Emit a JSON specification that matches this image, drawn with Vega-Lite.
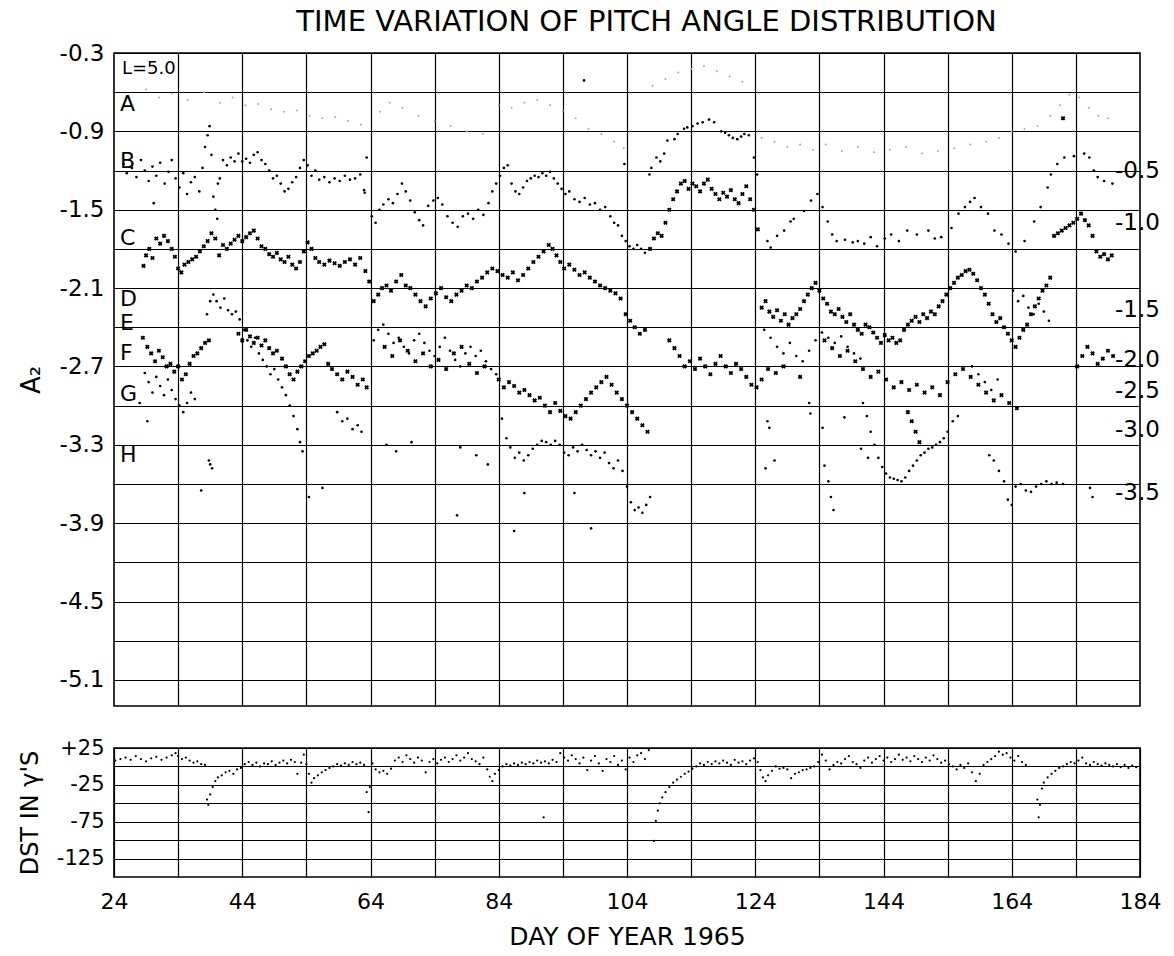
{
"$schema": "https://vega.github.io/schema/vega-lite/v6.json",
"padding": {"left": 17, "top": 8, "right": 5, "bottom": 5},
"background": "white",
"title": {"text": "TIME VARIATION OF PITCH ANGLE DISTRIBUTION", "fontSize": 29, "font": "DejaVu Sans", "fontWeight": "normal", "color": "black", "anchor": "middle", "offset": 4, "dx": 57},
"config": {
 "view": {"stroke": "black", "strokeWidth": 1.6},
 "font": "DejaVu Sans",
 "axis": {"gridColor": "black", "gridOpacity": 1, "gridWidth": 1.2, "domain": false, "ticks": false, "labelColor": "black", "titleColor": "black", "labelFont": "DejaVu Sans", "titleFont": "DejaVu Sans", "titleFontWeight": "normal", "labelOverlap": false, "labelFlush": false, "labelBound": false}
},
"datasets": {
"labs": [
{"t":"L=5.0","day":24,"a2":-0.42,"side":"left"},
{"t":"A","day":24,"a2":-0.69,"side":"left"},
{"t":"B","day":24,"a2":-1.13,"side":"left"},
{"t":"C","day":24,"a2":-1.72,"side":"left"},
{"t":"D","day":24,"a2":-2.18,"side":"left"},
{"t":"E","day":24,"a2":-2.37,"side":"left"},
{"t":"F","day":24,"a2":-2.6,"side":"left"},
{"t":"G","day":24,"a2":-2.91,"side":"left"},
{"t":"H","day":24,"a2":-3.38,"side":"left"},
{"t":"-0.5","day":184,"a2":-1.2,"side":"right"},
{"t":"-1.0","day":184,"a2":-1.6,"side":"right"},
{"t":"-1.5","day":184,"a2":-2.27,"side":"right"},
{"t":"-2.0","day":184,"a2":-2.65,"side":"right"},
{"t":"-2.5","day":184,"a2":-2.89,"side":"right"},
{"t":"-3.0","day":184,"a2":-3.19,"side":"right"},
{"t":"-3.5","day":184,"a2":-3.67,"side":"right"}
],
"pts": [
{"day":29,"a2":-0.58,"k":"faint"},{"day":31,"a2":-0.64,"k":"faint"},{"day":33,"a2":-0.61,"k":"faint"},{"day":35.5,"a2":-0.66,"k":"faint"},{"day":38,"a2":-0.6,"k":"faint"},{"day":40.5,"a2":-0.68,"k":"faint"},{"day":42.5,"a2":-0.64,"k":"faint"},{"day":44.5,"a2":-0.7,"k":"faint"},{"day":46.5,"a2":-0.69,"k":"faint"},{"day":48.5,"a2":-0.73,"k":"faint"},{"day":50.5,"a2":-0.75,"k":"faint"},{"day":52.5,"a2":-0.74,"k":"faint"},{"day":54.5,"a2":-0.78,"k":"faint"},{"day":56.5,"a2":-0.8,"k":"faint"},{"day":58.5,"a2":-0.79,"k":"faint"},{"day":60.5,"a2":-0.82,"k":"faint"},{"day":62.5,"a2":-0.85,"k":"faint"},{"day":65.5,"a2":-0.75,"k":"faint"},{"day":67,"a2":-0.68,"k":"faint"},{"day":69,"a2":-0.72,"k":"faint"},{"day":71.5,"a2":-0.78,"k":"faint"},{"day":74,"a2":-0.82,"k":"faint"},{"day":76.5,"a2":-0.86,"k":"faint"},{"day":79,"a2":-0.9,"k":"faint"},{"day":81.5,"a2":-0.92,"k":"faint"},{"day":84,"a2":-0.7,"k":"faint"},{"day":86,"a2":-0.72,"k":"faint"},{"day":88,"a2":-0.68,"k":"faint"},{"day":90,"a2":-0.66,"k":"faint"},{"day":92,"a2":-0.7,"k":"faint"},{"day":94,"a2":-0.74,"k":"faint"},{"day":96,"a2":-0.8,"k":"faint"},{"day":98,"a2":-0.88,"k":"faint"},{"day":100,"a2":-0.92,"k":"faint"},{"day":102,"a2":-0.98,"k":"faint"},{"day":103.5,"a2":-1.03,"k":"faint"},{"day":108,"a2":-0.55,"k":"faint"},{"day":110,"a2":-0.5,"k":"faint"},{"day":112,"a2":-0.45,"k":"faint"},{"day":114,"a2":-0.42,"k":"faint"},{"day":116,"a2":-0.4,"k":"faint"},{"day":118,"a2":-0.44,"k":"faint"},{"day":120,"a2":-0.48,"k":"faint"},{"day":122,"a2":-0.52,"k":"faint"},{"day":125,"a2":-0.95,"k":"faint"},{"day":127,"a2":-0.98,"k":"faint"},{"day":129,"a2":-1.02,"k":"faint"},{"day":131,"a2":-1.0,"k":"faint"},{"day":133,"a2":-1.04,"k":"faint"},{"day":135,"a2":-1.0,"k":"faint"},{"day":137.5,"a2":-1.05,"k":"faint"},{"day":140,"a2":-1.02,"k":"faint"},{"day":142.5,"a2":-1.06,"k":"faint"},{"day":145,"a2":-1.04,"k":"faint"},{"day":147.5,"a2":-1.02,"k":"faint"},{"day":150,"a2":-1.07,"k":"faint"},{"day":152.5,"a2":-1.05,"k":"faint"},{"day":155,"a2":-1.03,"k":"faint"},{"day":157.5,"a2":-1.0,"k":"faint"},{"day":160,"a2":-0.98,"k":"faint"},{"day":162,"a2":-0.95,"k":"faint"},{"day":164,"a2":-0.9,"k":"faint"},{"day":166,"a2":-0.88,"k":"faint"},{"day":168,"a2":-0.86,"k":"faint"},{"day":170,"a2":-0.78,"k":"faint"},{"day":171.5,"a2":-0.7,"k":"faint"},{"day":173,"a2":-0.62,"k":"faint"},{"day":174.5,"a2":-0.64,"k":"faint"},{"day":176,"a2":-0.72,"k":"faint"},{"day":177.5,"a2":-0.78,"k":"faint"},{"day":179,"a2":-0.8,"k":"faint"},
{"day":97.3,"a2":-0.51,"k":"dot"},{"day":172,"a2":-0.8,"k":"cross"},
{"day":25.5,"a2":-1.15,"k":"dot"},{"day":26.0,"a2":-1.22,"k":"dot"},{"day":26.8,"a2":-1.18,"k":"dot"},{"day":27.5,"a2":-1.25,"k":"dot"},{"day":28.2,"a2":-1.12,"k":"dot"},{"day":28.8,"a2":-1.2,"k":"dot"},{"day":29.4,"a2":-1.28,"k":"dot"},{"day":30.0,"a2":-1.17,"k":"dot"},{"day":30.2,"a2":-1.45,"k":"dot"},{"day":30.6,"a2":-1.24,"k":"dot"},{"day":31.2,"a2":-1.14,"k":"dot"},{"day":31.9,"a2":-1.3,"k":"dot"},{"day":32.5,"a2":-1.21,"k":"dot"},{"day":33.0,"a2":-1.12,"k":"dot"},{"day":33.6,"a2":-1.26,"k":"dot"},{"day":34.2,"a2":-1.33,"k":"dot"},{"day":34.8,"a2":-1.22,"k":"dot"},{"day":35.4,"a2":-1.38,"k":"dot"},{"day":36.0,"a2":-1.29,"k":"dot"},{"day":36.6,"a2":-1.25,"k":"dot"},{"day":37.3,"a2":-1.36,"k":"dot"},{"day":37.8,"a2":-1.18,"k":"dot"},{"day":38.2,"a2":-1.02,"k":"dot"},{"day":38.6,"a2":-0.93,"k":"dot"},{"day":38.9,"a2":-0.86,"k":"dot"},{"day":39.2,"a2":-1.08,"k":"dot"},{"day":39.5,"a2":-1.4,"k":"dot"},{"day":39.8,"a2":-1.5,"k":"dot"},{"day":40.1,"a2":-1.57,"k":"dot"},{"day":40.2,"a2":-1.3,"k":"dot"},{"day":40.5,"a2":-1.26,"k":"dot"},{"day":41.0,"a2":-1.12,"k":"dot"},{"day":41.6,"a2":-1.16,"k":"dot"},{"day":42.2,"a2":-1.1,"k":"dot"},{"day":42.8,"a2":-1.13,"k":"dot"},{"day":43.4,"a2":-1.07,"k":"dot"},{"day":44.0,"a2":-1.13,"k":"dot"},{"day":44.6,"a2":-1.11,"k":"dot"},{"day":45.2,"a2":-1.14,"k":"dot"},{"day":45.8,"a2":-1.08,"k":"dot"},{"day":46.4,"a2":-1.06,"k":"dot"},{"day":47.0,"a2":-1.12,"k":"dot"},{"day":47.6,"a2":-1.15,"k":"dot"},{"day":48.2,"a2":-1.2,"k":"dot"},{"day":48.8,"a2":-1.26,"k":"dot"},{"day":49.4,"a2":-1.24,"k":"dot"},{"day":50.0,"a2":-1.3,"k":"dot"},{"day":50.6,"a2":-1.36,"k":"dot"},{"day":51.2,"a2":-1.34,"k":"dot"},{"day":51.8,"a2":-1.29,"k":"dot"},{"day":52.4,"a2":-1.25,"k":"dot"},{"day":53.0,"a2":-1.18,"k":"dot"},{"day":53.6,"a2":-1.12,"k":"dot"},{"day":54.2,"a2":-1.16,"k":"dot"},{"day":54.8,"a2":-1.24,"k":"dot"},{"day":55.4,"a2":-1.2,"k":"dot"},{"day":56.0,"a2":-1.27,"k":"dot"},{"day":56.8,"a2":-1.25,"k":"dot"},{"day":57.6,"a2":-1.29,"k":"dot"},{"day":58.4,"a2":-1.26,"k":"dot"},{"day":59.2,"a2":-1.28,"k":"dot"},{"day":60.0,"a2":-1.24,"k":"dot"},{"day":60.8,"a2":-1.27,"k":"dot"},{"day":61.6,"a2":-1.26,"k":"dot"},{"day":62.4,"a2":-1.23,"k":"dot"},{"day":63.0,"a2":-1.35,"k":"dot"},{"day":63.1,"a2":-1.37,"k":"dot"},{"day":63.4,"a2":-1.1,"k":"dot"},{"day":64.2,"a2":-1.55,"k":"dot"},{"day":64.8,"a2":-1.6,"k":"dot"},{"day":65.4,"a2":-1.5,"k":"dot"},{"day":66.0,"a2":-1.46,"k":"dot"},{"day":66.8,"a2":-1.42,"k":"dot"},{"day":67.5,"a2":-1.45,"k":"dot"},{"day":68.2,"a2":-1.38,"k":"dot"},{"day":68.9,"a2":-1.3,"k":"dot"},{"day":69.5,"a2":-1.36,"k":"dot"},{"day":70.2,"a2":-1.43,"k":"dot"},{"day":70.9,"a2":-1.52,"k":"dot"},{"day":71.6,"a2":-1.58,"k":"dot"},{"day":72.2,"a2":-1.62,"k":"dot"},{"day":73.0,"a2":-1.47,"k":"dot"},{"day":73.8,"a2":-1.43,"k":"dot"},{"day":74.5,"a2":-1.41,"k":"dot"},{"day":75.2,"a2":-1.46,"k":"dot"},{"day":76.0,"a2":-1.55,"k":"dot"},{"day":76.8,"a2":-1.6,"k":"dot"},{"day":77.6,"a2":-1.63,"k":"dot"},{"day":78.4,"a2":-1.55,"k":"dot"},{"day":79.2,"a2":-1.53,"k":"dot"},{"day":80.0,"a2":-1.57,"k":"dot"},{"day":80.8,"a2":-1.5,"k":"dot"},{"day":81.6,"a2":-1.54,"k":"dot"},{"day":82.4,"a2":-1.45,"k":"dot"},{"day":83.0,"a2":-1.36,"k":"dot"},{"day":83.6,"a2":-1.3,"k":"dot"},{"day":84.2,"a2":-1.24,"k":"dot"},{"day":84.8,"a2":-1.18,"k":"dot"},{"day":85.4,"a2":-1.16,"k":"dot"},{"day":86.0,"a2":-1.3,"k":"dot"},{"day":86.6,"a2":-1.36,"k":"dot"},{"day":87.2,"a2":-1.38,"k":"dot"},{"day":87.8,"a2":-1.33,"k":"dot"},{"day":88.4,"a2":-1.28,"k":"dot"},{"day":89.0,"a2":-1.26,"k":"dot"},{"day":89.6,"a2":-1.24,"k":"dot"},{"day":90.2,"a2":-1.25,"k":"dot"},{"day":90.8,"a2":-1.22,"k":"dot"},{"day":91.4,"a2":-1.24,"k":"dot"},{"day":92.0,"a2":-1.21,"k":"dot"},{"day":92.6,"a2":-1.26,"k":"dot"},{"day":93.2,"a2":-1.3,"k":"dot"},{"day":93.8,"a2":-1.34,"k":"dot"},{"day":94.4,"a2":-1.38,"k":"dot"},{"day":95.0,"a2":-1.36,"k":"dot"},{"day":95.8,"a2":-1.42,"k":"dot"},{"day":96.6,"a2":-1.44,"k":"dot"},{"day":97.4,"a2":-1.41,"k":"dot"},{"day":98.2,"a2":-1.46,"k":"dot"},{"day":99.0,"a2":-1.45,"k":"dot"},{"day":99.8,"a2":-1.5,"k":"dot"},{"day":100.6,"a2":-1.48,"k":"dot"},{"day":101.4,"a2":-1.55,"k":"dot"},{"day":102.0,"a2":-1.6,"k":"dot"},{"day":102.6,"a2":-1.62,"k":"dot"},{"day":103.2,"a2":-1.7,"k":"dot"},{"day":103.6,"a2":-1.15,"k":"dot"},{"day":103.8,"a2":-1.74,"k":"dot"},{"day":104.4,"a2":-1.78,"k":"dot"},{"day":105.0,"a2":-1.8,"k":"dot"},{"day":105.6,"a2":-1.77,"k":"dot"},{"day":106.2,"a2":-1.8,"k":"dot"},{"day":106.8,"a2":-1.83,"k":"dot"},{"day":107.5,"a2":-1.23,"k":"dot"},{"day":107.8,"a2":-1.18,"k":"dot"},{"day":108.6,"a2":-1.1,"k":"dot"},{"day":109.2,"a2":-1.13,"k":"dot"},{"day":109.8,"a2":-1.07,"k":"dot"},{"day":110.3,"a2":-0.97,"k":"dot"},{"day":111.4,"a2":-0.96,"k":"dot"},{"day":111.9,"a2":-0.92,"k":"dot"},{"day":112.9,"a2":-0.88,"k":"dot"},{"day":113.4,"a2":-0.87,"k":"dot"},{"day":114.2,"a2":-0.86,"k":"dot"},{"day":115.0,"a2":-0.84,"k":"dot"},{"day":115.8,"a2":-0.83,"k":"dot"},{"day":116.8,"a2":-0.81,"k":"dot"},{"day":117.6,"a2":-0.83,"k":"dot"},{"day":118.7,"a2":-0.9,"k":"dot"},{"day":119.3,"a2":-0.91,"k":"dot"},{"day":119.9,"a2":-0.93,"k":"dot"},{"day":120.5,"a2":-0.95,"k":"dot"},{"day":121.2,"a2":-0.96,"k":"dot"},{"day":121.8,"a2":-0.94,"k":"dot"},{"day":122.3,"a2":-0.92,"k":"dot"},{"day":123.0,"a2":-0.93,"k":"dot"},{"day":123.8,"a2":-1.1,"k":"dot"},{"day":124.3,"a2":-1.23,"k":"dot"},{"day":125.9,"a2":-1.74,"k":"dot"},{"day":126.4,"a2":-1.79,"k":"dot"},{"day":127.4,"a2":-1.7,"k":"dot"},{"day":128.5,"a2":-1.66,"k":"dot"},{"day":129.5,"a2":-1.59,"k":"dot"},{"day":130.0,"a2":-1.57,"k":"dot"},{"day":131.6,"a2":-1.51,"k":"dot"},{"day":132.7,"a2":-1.43,"k":"dot"},{"day":133.7,"a2":-1.38,"k":"dot"},{"day":134.5,"a2":-1.48,"k":"dot"},{"day":135.3,"a2":-1.59,"k":"dot"},{"day":136.0,"a2":-1.69,"k":"dot"},{"day":136.7,"a2":-1.74,"k":"dot"},{"day":138.0,"a2":-1.73,"k":"dot"},{"day":139.2,"a2":-1.75,"k":"dot"},{"day":140.0,"a2":-1.74,"k":"dot"},{"day":141.0,"a2":-1.76,"k":"dot"},{"day":142.0,"a2":-1.71,"k":"dot"},{"day":143.0,"a2":-1.78,"k":"dot"},{"day":144.2,"a2":-1.72,"k":"dot"},{"day":145.2,"a2":-1.69,"k":"dot"},{"day":146.4,"a2":-1.74,"k":"dot"},{"day":147.7,"a2":-1.66,"k":"dot"},{"day":149.2,"a2":-1.69,"k":"dot"},{"day":151.0,"a2":-1.66,"k":"dot"},{"day":152.0,"a2":-1.72,"k":"dot"},{"day":153.0,"a2":-1.71,"k":"dot"},{"day":154.6,"a2":-1.64,"k":"dot"},{"day":155.7,"a2":-1.53,"k":"dot"},{"day":156.7,"a2":-1.48,"k":"dot"},{"day":157.5,"a2":-1.44,"k":"dot"},{"day":158.2,"a2":-1.41,"k":"dot"},{"day":159.2,"a2":-1.48,"k":"dot"},{"day":160.3,"a2":-1.53,"k":"dot"},{"day":161.3,"a2":-1.66,"k":"dot"},{"day":162.4,"a2":-1.69,"k":"dot"},{"day":163.5,"a2":-1.76,"k":"dot"},{"day":164.6,"a2":-1.82,"k":"dot"},{"day":166.0,"a2":-1.74,"k":"dot"},{"day":167.5,"a2":-1.59,"k":"dot"},{"day":168.5,"a2":-1.48,"k":"dot"},{"day":169.6,"a2":-1.33,"k":"dot"},{"day":170.1,"a2":-1.23,"k":"dot"},{"day":171.1,"a2":-1.15,"k":"dot"},{"day":172.2,"a2":-1.1,"k":"dot"},{"day":173.7,"a2":-1.09,"k":"dot"},{"day":175.3,"a2":-1.07,"k":"dot"},{"day":176.1,"a2":-1.1,"k":"dot"},{"day":176.8,"a2":-1.2,"k":"dot"},{"day":177.4,"a2":-1.25,"k":"dot"},{"day":178.4,"a2":-1.28,"k":"dot"},{"day":179.7,"a2":-1.3,"k":"dot"},
{"day":28.6,"a2":-1.93,"k":"cross"},{"day":29.0,"a2":-1.85,"k":"cross"},{"day":29.5,"a2":-1.8,"k":"cross"},{"day":30.0,"a2":-1.87,"k":"cross"},{"day":30.6,"a2":-1.72,"k":"cross"},{"day":31.2,"a2":-1.76,"k":"cross"},{"day":31.8,"a2":-1.7,"k":"cross"},{"day":32.4,"a2":-1.74,"k":"cross"},{"day":33.0,"a2":-1.8,"k":"cross"},{"day":33.5,"a2":-1.86,"k":"cross"},{"day":34.0,"a2":-1.95,"k":"cross"},{"day":34.5,"a2":-1.98,"k":"cross"},{"day":35.0,"a2":-1.92,"k":"cross"},{"day":35.6,"a2":-1.9,"k":"cross"},{"day":36.2,"a2":-1.88,"k":"cross"},{"day":36.8,"a2":-1.86,"k":"cross"},{"day":37.4,"a2":-1.82,"k":"cross"},{"day":38.0,"a2":-1.78,"k":"cross"},{"day":38.6,"a2":-1.74,"k":"cross"},{"day":39.2,"a2":-1.68,"k":"cross"},{"day":39.8,"a2":-1.72,"k":"cross"},{"day":40.4,"a2":-1.85,"k":"cross"},{"day":41.0,"a2":-1.77,"k":"cross"},{"day":41.6,"a2":-1.8,"k":"cross"},{"day":42.2,"a2":-1.76,"k":"cross"},{"day":42.8,"a2":-1.73,"k":"cross"},{"day":43.4,"a2":-1.7,"k":"cross"},{"day":44.0,"a2":-1.74,"k":"cross"},{"day":44.6,"a2":-1.71,"k":"cross"},{"day":45.2,"a2":-1.68,"k":"cross"},{"day":45.8,"a2":-1.66,"k":"cross"},{"day":46.4,"a2":-1.72,"k":"cross"},{"day":47.0,"a2":-1.78,"k":"cross"},{"day":47.6,"a2":-1.8,"k":"cross"},{"day":48.2,"a2":-1.84,"k":"cross"},{"day":48.8,"a2":-1.86,"k":"cross"},{"day":49.4,"a2":-1.83,"k":"cross"},{"day":50.0,"a2":-1.88,"k":"cross"},{"day":50.6,"a2":-1.9,"k":"cross"},{"day":51.2,"a2":-1.86,"k":"cross"},{"day":51.8,"a2":-1.92,"k":"cross"},{"day":52.4,"a2":-1.95,"k":"cross"},{"day":53.0,"a2":-1.9,"k":"cross"},{"day":53.6,"a2":-1.82,"k":"cross"},{"day":54.2,"a2":-1.75,"k":"cross"},{"day":54.8,"a2":-1.8,"k":"cross"},{"day":55.4,"a2":-1.87,"k":"cross"},{"day":56.0,"a2":-1.9,"k":"cross"},{"day":56.8,"a2":-1.92,"k":"cross"},{"day":57.6,"a2":-1.89,"k":"cross"},{"day":58.4,"a2":-1.91,"k":"cross"},{"day":59.2,"a2":-1.93,"k":"cross"},{"day":60.0,"a2":-1.9,"k":"cross"},{"day":60.8,"a2":-1.88,"k":"cross"},{"day":61.6,"a2":-1.92,"k":"cross"},{"day":62.4,"a2":-1.87,"k":"cross"},{"day":63.2,"a2":-1.97,"k":"cross"},{"day":63.8,"a2":-2.05,"k":"cross"},{"day":64.5,"a2":-2.2,"k":"cross"},{"day":65.2,"a2":-2.15,"k":"cross"},{"day":65.8,"a2":-2.1,"k":"cross"},{"day":66.5,"a2":-2.08,"k":"cross"},{"day":67.2,"a2":-2.12,"k":"cross"},{"day":68.0,"a2":-2.05,"k":"cross"},{"day":68.8,"a2":-2.0,"k":"cross"},{"day":69.5,"a2":-2.08,"k":"cross"},{"day":70.2,"a2":-2.1,"k":"cross"},{"day":71.0,"a2":-2.15,"k":"cross"},{"day":71.8,"a2":-2.2,"k":"cross"},{"day":72.6,"a2":-2.24,"k":"cross"},{"day":73.4,"a2":-2.18,"k":"cross"},{"day":74.2,"a2":-2.14,"k":"cross"},{"day":75.0,"a2":-2.1,"k":"cross"},{"day":75.8,"a2":-2.17,"k":"cross"},{"day":76.6,"a2":-2.2,"k":"cross"},{"day":77.4,"a2":-2.15,"k":"cross"},{"day":78.2,"a2":-2.12,"k":"cross"},{"day":79.0,"a2":-2.08,"k":"cross"},{"day":79.8,"a2":-2.1,"k":"cross"},{"day":80.6,"a2":-2.05,"k":"cross"},{"day":81.4,"a2":-2.02,"k":"cross"},{"day":82.2,"a2":-1.98,"k":"cross"},{"day":83.0,"a2":-1.95,"k":"cross"},{"day":83.8,"a2":-1.97,"k":"cross"},{"day":84.6,"a2":-2.0,"k":"cross"},{"day":85.4,"a2":-2.02,"k":"cross"},{"day":86.2,"a2":-1.98,"k":"cross"},{"day":87.0,"a2":-2.04,"k":"cross"},{"day":87.8,"a2":-2.0,"k":"cross"},{"day":88.6,"a2":-1.95,"k":"cross"},{"day":89.4,"a2":-1.9,"k":"cross"},{"day":90.2,"a2":-1.86,"k":"cross"},{"day":91.0,"a2":-1.82,"k":"cross"},{"day":91.8,"a2":-1.77,"k":"cross"},{"day":92.4,"a2":-1.8,"k":"cross"},{"day":93.0,"a2":-1.85,"k":"cross"},{"day":93.6,"a2":-1.9,"k":"cross"},{"day":94.2,"a2":-1.95,"k":"cross"},{"day":95.0,"a2":-1.92,"k":"cross"},{"day":95.8,"a2":-1.96,"k":"cross"},{"day":96.6,"a2":-2.0,"k":"cross"},{"day":97.4,"a2":-1.98,"k":"cross"},{"day":98.2,"a2":-2.02,"k":"cross"},{"day":99.0,"a2":-2.05,"k":"cross"},{"day":99.8,"a2":-2.08,"k":"cross"},{"day":100.6,"a2":-2.1,"k":"cross"},{"day":101.4,"a2":-2.12,"k":"cross"},{"day":102.2,"a2":-2.14,"k":"cross"},{"day":103.0,"a2":-2.18,"k":"cross"},{"day":103.8,"a2":-2.3,"k":"cross"},{"day":104.5,"a2":-2.35,"k":"cross"},{"day":105.2,"a2":-2.4,"k":"cross"},{"day":106.0,"a2":-2.45,"k":"cross"},{"day":106.8,"a2":-2.42,"k":"cross"},{"day":107.6,"a2":-1.8,"k":"cross"},{"day":108.2,"a2":-1.72,"k":"cross"},{"day":108.8,"a2":-1.68,"k":"cross"},{"day":109.4,"a2":-1.7,"k":"cross"},{"day":110.0,"a2":-1.6,"k":"cross"},{"day":110.6,"a2":-1.5,"k":"cross"},{"day":111.2,"a2":-1.42,"k":"cross"},{"day":111.8,"a2":-1.36,"k":"cross"},{"day":112.4,"a2":-1.3,"k":"cross"},{"day":113.0,"a2":-1.28,"k":"cross"},{"day":113.6,"a2":-1.34,"k":"cross"},{"day":114.2,"a2":-1.3,"k":"cross"},{"day":114.8,"a2":-1.32,"k":"cross"},{"day":115.4,"a2":-1.36,"k":"cross"},{"day":116.0,"a2":-1.3,"k":"cross"},{"day":116.6,"a2":-1.27,"k":"cross"},{"day":117.2,"a2":-1.34,"k":"cross"},{"day":117.8,"a2":-1.38,"k":"cross"},{"day":118.4,"a2":-1.42,"k":"cross"},{"day":119.0,"a2":-1.37,"k":"cross"},{"day":119.6,"a2":-1.4,"k":"cross"},{"day":120.2,"a2":-1.35,"k":"cross"},{"day":120.8,"a2":-1.42,"k":"cross"},{"day":121.4,"a2":-1.45,"k":"cross"},{"day":122.0,"a2":-1.38,"k":"cross"},{"day":122.6,"a2":-1.32,"k":"cross"},{"day":123.2,"a2":-1.42,"k":"cross"},{"day":123.8,"a2":-1.5,"k":"cross"},{"day":124.4,"a2":-1.65,"k":"cross"},{"day":125.0,"a2":-2.25,"k":"cross"},{"day":125.6,"a2":-2.2,"k":"cross"},{"day":126.2,"a2":-2.28,"k":"cross"},{"day":126.8,"a2":-2.32,"k":"cross"},{"day":127.4,"a2":-2.27,"k":"cross"},{"day":128.0,"a2":-2.35,"k":"cross"},{"day":128.6,"a2":-2.3,"k":"cross"},{"day":129.2,"a2":-2.38,"k":"cross"},{"day":129.8,"a2":-2.33,"k":"cross"},{"day":130.4,"a2":-2.3,"k":"cross"},{"day":131.0,"a2":-2.26,"k":"cross"},{"day":131.6,"a2":-2.2,"k":"cross"},{"day":132.2,"a2":-2.15,"k":"cross"},{"day":132.8,"a2":-2.1,"k":"cross"},{"day":133.4,"a2":-2.06,"k":"cross"},{"day":134.0,"a2":-2.12,"k":"cross"},{"day":134.6,"a2":-2.18,"k":"cross"},{"day":135.2,"a2":-2.22,"k":"cross"},{"day":135.8,"a2":-2.28,"k":"cross"},{"day":136.4,"a2":-2.3,"k":"cross"},{"day":137.0,"a2":-2.26,"k":"cross"},{"day":137.6,"a2":-2.32,"k":"cross"},{"day":138.2,"a2":-2.36,"k":"cross"},{"day":138.8,"a2":-2.3,"k":"cross"},{"day":139.4,"a2":-2.38,"k":"cross"},{"day":140.0,"a2":-2.42,"k":"cross"},{"day":140.6,"a2":-2.45,"k":"cross"},{"day":141.2,"a2":-2.38,"k":"cross"},{"day":141.8,"a2":-2.4,"k":"cross"},{"day":142.4,"a2":-2.44,"k":"cross"},{"day":143.0,"a2":-2.48,"k":"cross"},{"day":143.6,"a2":-2.52,"k":"cross"},{"day":144.2,"a2":-2.46,"k":"cross"},{"day":144.8,"a2":-2.5,"k":"cross"},{"day":145.4,"a2":-2.48,"k":"cross"},{"day":146.0,"a2":-2.52,"k":"cross"},{"day":146.6,"a2":-2.5,"k":"cross"},{"day":147.2,"a2":-2.42,"k":"cross"},{"day":147.8,"a2":-2.38,"k":"cross"},{"day":148.4,"a2":-2.35,"k":"cross"},{"day":149.0,"a2":-2.32,"k":"cross"},{"day":149.6,"a2":-2.36,"k":"cross"},{"day":150.2,"a2":-2.3,"k":"cross"},{"day":150.8,"a2":-2.33,"k":"cross"},{"day":151.4,"a2":-2.28,"k":"cross"},{"day":152.0,"a2":-2.3,"k":"cross"},{"day":152.6,"a2":-2.24,"k":"cross"},{"day":153.2,"a2":-2.2,"k":"cross"},{"day":153.8,"a2":-2.15,"k":"cross"},{"day":154.4,"a2":-2.1,"k":"cross"},{"day":155.0,"a2":-2.06,"k":"cross"},{"day":155.6,"a2":-2.02,"k":"cross"},{"day":156.2,"a2":-2.0,"k":"cross"},{"day":156.8,"a2":-1.97,"k":"cross"},{"day":157.4,"a2":-1.96,"k":"cross"},{"day":158.0,"a2":-1.99,"k":"cross"},{"day":158.6,"a2":-2.04,"k":"cross"},{"day":159.2,"a2":-2.1,"k":"cross"},{"day":159.8,"a2":-2.15,"k":"cross"},{"day":160.4,"a2":-2.22,"k":"cross"},{"day":161.0,"a2":-2.3,"k":"cross"},{"day":161.6,"a2":-2.36,"k":"cross"},{"day":162.2,"a2":-2.33,"k":"cross"},{"day":162.8,"a2":-2.4,"k":"cross"},{"day":163.4,"a2":-2.45,"k":"cross"},{"day":164.0,"a2":-2.5,"k":"cross"},{"day":164.6,"a2":-2.55,"k":"cross"},{"day":165.2,"a2":-2.48,"k":"cross"},{"day":165.8,"a2":-2.42,"k":"cross"},{"day":166.4,"a2":-2.38,"k":"cross"},{"day":167.0,"a2":-2.3,"k":"cross"},{"day":167.6,"a2":-2.24,"k":"cross"},{"day":168.2,"a2":-2.18,"k":"cross"},{"day":168.8,"a2":-2.12,"k":"cross"},{"day":169.4,"a2":-2.08,"k":"cross"},{"day":170.0,"a2":-2.02,"k":"cross"},{"day":170.6,"a2":-1.7,"k":"cross"},{"day":171.2,"a2":-1.68,"k":"cross"},{"day":171.8,"a2":-1.66,"k":"cross"},{"day":172.4,"a2":-1.64,"k":"cross"},{"day":173.0,"a2":-1.62,"k":"cross"},{"day":173.6,"a2":-1.6,"k":"cross"},{"day":174.2,"a2":-1.57,"k":"cross"},{"day":174.8,"a2":-1.53,"k":"cross"},{"day":175.4,"a2":-1.58,"k":"cross"},{"day":176.0,"a2":-1.62,"k":"cross"},{"day":176.6,"a2":-1.7,"k":"cross"},{"day":177.2,"a2":-1.82,"k":"cross"},{"day":177.8,"a2":-1.86,"k":"cross"},{"day":178.4,"a2":-1.84,"k":"cross"},{"day":179.0,"a2":-1.88,"k":"cross"},{"day":179.6,"a2":-1.85,"k":"cross"},
{"day":38.5,"a2":-2.3,"k":"dot"},{"day":39.0,"a2":-2.2,"k":"dot"},{"day":39.5,"a2":-2.15,"k":"dot"},{"day":40.0,"a2":-2.2,"k":"dot"},{"day":40.6,"a2":-2.25,"k":"dot"},{"day":41.2,"a2":-2.18,"k":"dot"},{"day":41.8,"a2":-2.27,"k":"dot"},{"day":42.4,"a2":-2.3,"k":"dot"},{"day":43.0,"a2":-2.28,"k":"dot"},{"day":43.6,"a2":-2.34,"k":"dot"},{"day":44.2,"a2":-2.42,"k":"dot"},{"day":44.8,"a2":-2.5,"k":"dot"},{"day":45.4,"a2":-2.55,"k":"dot"},{"day":46.0,"a2":-2.48,"k":"dot"},{"day":46.6,"a2":-2.6,"k":"dot"},{"day":47.2,"a2":-2.65,"k":"dot"},{"day":47.8,"a2":-2.7,"k":"dot"},{"day":48.4,"a2":-2.76,"k":"dot"},{"day":49.0,"a2":-2.72,"k":"dot"},{"day":49.6,"a2":-2.8,"k":"dot"},{"day":50.2,"a2":-2.86,"k":"dot"},{"day":50.8,"a2":-2.92,"k":"dot"},{"day":51.4,"a2":-3.0,"k":"dot"},{"day":52.0,"a2":-3.08,"k":"dot"},{"day":52.6,"a2":-3.18,"k":"dot"},{"day":53.0,"a2":-3.28,"k":"dot"},{"day":53.4,"a2":-3.35,"k":"dot"},{"day":58.8,"a2":-3.05,"k":"dot"},{"day":59.6,"a2":-3.12,"k":"dot"},{"day":60.4,"a2":-3.1,"k":"dot"},{"day":61.2,"a2":-3.18,"k":"dot"},{"day":62.0,"a2":-3.15,"k":"dot"},{"day":62.6,"a2":-3.2,"k":"dot"},
{"day":64.5,"a2":-2.5,"k":"dot"},{"day":65.2,"a2":-2.42,"k":"dot"},{"day":66.0,"a2":-2.38,"k":"dot"},{"day":66.8,"a2":-2.45,"k":"dot"},{"day":67.6,"a2":-2.52,"k":"dot"},{"day":68.4,"a2":-2.48,"k":"dot"},{"day":69.2,"a2":-2.55,"k":"dot"},{"day":70.0,"a2":-2.6,"k":"dot"},{"day":70.8,"a2":-2.5,"k":"dot"},{"day":71.6,"a2":-2.45,"k":"dot"},{"day":72.4,"a2":-2.52,"k":"dot"},{"day":73.2,"a2":-2.58,"k":"dot"},{"day":74.0,"a2":-2.62,"k":"dot"},{"day":74.8,"a2":-2.55,"k":"dot"},{"day":75.6,"a2":-2.48,"k":"dot"},{"day":76.4,"a2":-2.58,"k":"dot"},{"day":77.2,"a2":-2.65,"k":"dot"},{"day":78.0,"a2":-2.7,"k":"dot"},{"day":78.8,"a2":-2.6,"k":"dot"},{"day":79.6,"a2":-2.55,"k":"dot"},{"day":80.4,"a2":-2.62,"k":"dot"},{"day":81.2,"a2":-2.58,"k":"dot"},{"day":82.0,"a2":-2.66,"k":"dot"},{"day":82.8,"a2":-2.72,"k":"dot"},{"day":83.6,"a2":-2.76,"k":"dot"},
{"day":125.4,"a2":-2.42,"k":"dot"},{"day":126.4,"a2":-2.48,"k":"dot"},{"day":127.4,"a2":-2.55,"k":"dot"},{"day":128.4,"a2":-2.6,"k":"dot"},{"day":129.4,"a2":-2.52,"k":"dot"},{"day":130.4,"a2":-2.62,"k":"dot"},{"day":131.4,"a2":-2.66,"k":"dot"},{"day":132.4,"a2":-2.58,"k":"dot"},{"day":133.4,"a2":-2.5,"k":"dot"},{"day":134.4,"a2":-2.44,"k":"dot"},{"day":135.4,"a2":-2.48,"k":"dot"},{"day":136.4,"a2":-2.52,"k":"dot"},{"day":137.4,"a2":-2.47,"k":"dot"},{"day":138.4,"a2":-2.55,"k":"dot"},{"day":139.4,"a2":-2.6,"k":"dot"},{"day":140.4,"a2":-2.64,"k":"dot"},
{"day":140.8,"a2":-2.98,"k":"dot"},{"day":141.4,"a2":-3.08,"k":"dot"},{"day":142.0,"a2":-3.2,"k":"dot"},{"day":142.6,"a2":-3.3,"k":"dot"},{"day":143.2,"a2":-3.4,"k":"dot"},{"day":143.8,"a2":-3.47,"k":"dot"},{"day":144.4,"a2":-3.52,"k":"dot"},{"day":145.0,"a2":-3.55,"k":"dot"},{"day":145.6,"a2":-3.56,"k":"dot"},{"day":146.2,"a2":-3.57,"k":"dot"},{"day":146.8,"a2":-3.58,"k":"dot"},{"day":147.4,"a2":-3.55,"k":"dot"},{"day":148.0,"a2":-3.5,"k":"dot"},{"day":148.6,"a2":-3.46,"k":"dot"},{"day":149.2,"a2":-3.42,"k":"dot"},{"day":149.8,"a2":-3.38,"k":"dot"},{"day":150.4,"a2":-3.36,"k":"dot"},{"day":151.0,"a2":-3.33,"k":"dot"},{"day":151.6,"a2":-3.32,"k":"dot"},{"day":152.2,"a2":-3.3,"k":"dot"},{"day":152.8,"a2":-3.28,"k":"dot"},{"day":153.4,"a2":-3.25,"k":"dot"},{"day":154.0,"a2":-3.2,"k":"dot"},{"day":154.8,"a2":-3.12,"k":"dot"},{"day":155.6,"a2":-3.08,"k":"dot"},
{"day":157.8,"a2":-2.7,"k":"dot"},{"day":158.8,"a2":-2.76,"k":"dot"},{"day":159.8,"a2":-2.82,"k":"dot"},{"day":160.8,"a2":-2.88,"k":"dot"},{"day":161.8,"a2":-2.8,"k":"dot"},
{"day":160.5,"a2":-3.38,"k":"dot"},{"day":161.2,"a2":-3.42,"k":"dot"},{"day":162.0,"a2":-3.5,"k":"dot"},{"day":162.8,"a2":-3.58,"k":"dot"},{"day":163.4,"a2":-3.72,"k":"dot"},{"day":164.0,"a2":-3.76,"k":"dot"},{"day":164.6,"a2":-3.62,"k":"dot"},{"day":165.4,"a2":-3.6,"k":"dot"},{"day":166.2,"a2":-3.65,"k":"dot"},{"day":167.0,"a2":-3.66,"k":"dot"},{"day":167.8,"a2":-3.62,"k":"dot"},{"day":168.6,"a2":-3.6,"k":"dot"},{"day":169.4,"a2":-3.58,"k":"dot"},{"day":170.2,"a2":-3.6,"k":"dot"},{"day":171.0,"a2":-3.59,"k":"dot"},{"day":172.0,"a2":-3.6,"k":"dot"},{"day":176.2,"a2":-3.63,"k":"dot"},{"day":176.6,"a2":-3.7,"k":"dot"},
{"day":164.2,"a2":-2.12,"k":"dot"},{"day":165.0,"a2":-2.2,"k":"dot"},{"day":165.8,"a2":-2.16,"k":"dot"},{"day":166.6,"a2":-2.25,"k":"dot"},{"day":167.4,"a2":-2.3,"k":"dot"},{"day":168.2,"a2":-2.22,"k":"dot"},{"day":169.0,"a2":-2.28,"k":"dot"},{"day":169.8,"a2":-2.35,"k":"dot"},
{"day":28.0,"a2":-2.98,"k":"dot"},{"day":28.8,"a2":-2.75,"k":"dot"},{"day":29.4,"a2":-2.82,"k":"dot"},{"day":30.0,"a2":-2.9,"k":"dot"},{"day":30.6,"a2":-2.78,"k":"dot"},{"day":31.2,"a2":-2.85,"k":"dot"},{"day":31.8,"a2":-2.92,"k":"dot"},{"day":32.4,"a2":-2.8,"k":"dot"},{"day":33.0,"a2":-2.88,"k":"dot"},{"day":33.6,"a2":-2.95,"k":"dot"},{"day":34.2,"a2":-3.0,"k":"dot"},{"day":34.8,"a2":-3.05,"k":"dot"},{"day":35.4,"a2":-2.98,"k":"dot"},{"day":36.0,"a2":-2.9,"k":"dot"},{"day":36.6,"a2":-2.95,"k":"dot"},{"day":29.2,"a2":-3.12,"k":"dot"},{"day":38.8,"a2":-3.42,"k":"dot"},{"day":39.0,"a2":-3.45,"k":"dot"},{"day":39.3,"a2":-3.48,"k":"dot"},{"day":37.6,"a2":-3.65,"k":"dot"},{"day":56.5,"a2":-3.63,"k":"dot"},{"day":54.4,"a2":-3.7,"k":"dot"},{"day":77.5,"a2":-3.84,"k":"dot"},{"day":86.4,"a2":-3.96,"k":"dot"},{"day":98.4,"a2":-3.94,"k":"dot"},{"day":95.8,"a2":-3.67,"k":"dot"},{"day":88.0,"a2":-3.67,"k":"dot"},{"day":66.5,"a2":-3.3,"k":"dot"},{"day":68.0,"a2":-3.35,"k":"dot"},{"day":70.4,"a2":-3.28,"k":"dot"},{"day":78.0,"a2":-3.32,"k":"dot"},{"day":80.5,"a2":-3.38,"k":"dot"},{"day":82.3,"a2":-3.45,"k":"dot"},{"day":125.6,"a2":-3.48,"k":"dot"},{"day":127.0,"a2":-3.42,"k":"dot"},{"day":134.8,"a2":-3.46,"k":"dot"},{"day":135.4,"a2":-3.58,"k":"dot"},{"day":135.8,"a2":-3.7,"k":"dot"},{"day":136.2,"a2":-3.8,"k":"dot"},{"day":125.9,"a2":-3.12,"k":"dot"},{"day":126.2,"a2":-3.17,"k":"dot"},{"day":132.4,"a2":-2.98,"k":"dot"},{"day":132.6,"a2":-3.06,"k":"dot"},{"day":137.9,"a2":-3.09,"k":"dot"},{"day":134.5,"a2":-3.17,"k":"dot"},{"day":140.5,"a2":-3.33,"k":"dot"},{"day":141.6,"a2":-3.4,"k":"dot"},
{"day":84.5,"a2":-3.1,"k":"dot"},{"day":85.2,"a2":-3.25,"k":"dot"},{"day":85.8,"a2":-3.32,"k":"dot"},{"day":86.5,"a2":-3.4,"k":"dot"},{"day":87.2,"a2":-3.36,"k":"dot"},{"day":87.9,"a2":-3.42,"k":"dot"},{"day":88.6,"a2":-3.38,"k":"dot"},{"day":89.3,"a2":-3.33,"k":"dot"},{"day":90.0,"a2":-3.3,"k":"dot"},{"day":90.7,"a2":-3.27,"k":"dot"},{"day":91.4,"a2":-3.28,"k":"dot"},{"day":92.1,"a2":-3.3,"k":"dot"},{"day":92.8,"a2":-3.27,"k":"dot"},{"day":93.5,"a2":-3.3,"k":"dot"},{"day":94.2,"a2":-3.36,"k":"dot"},{"day":94.9,"a2":-3.38,"k":"dot"},{"day":95.6,"a2":-3.32,"k":"dot"},{"day":96.3,"a2":-3.35,"k":"dot"},{"day":97.0,"a2":-3.3,"k":"dot"},{"day":97.7,"a2":-3.34,"k":"dot"},{"day":98.4,"a2":-3.38,"k":"dot"},{"day":99.1,"a2":-3.35,"k":"dot"},{"day":99.8,"a2":-3.4,"k":"dot"},{"day":100.5,"a2":-3.36,"k":"dot"},{"day":101.2,"a2":-3.44,"k":"dot"},{"day":101.9,"a2":-3.48,"k":"dot"},{"day":102.6,"a2":-3.42,"k":"dot"},{"day":103.3,"a2":-3.5,"k":"dot"},{"day":104.0,"a2":-3.62,"k":"dot"},{"day":104.6,"a2":-3.74,"k":"dot"},{"day":105.2,"a2":-3.8,"k":"dot"},{"day":105.8,"a2":-3.78,"k":"dot"},{"day":106.4,"a2":-3.82,"k":"dot"},{"day":107.0,"a2":-3.76,"k":"dot"},{"day":107.6,"a2":-3.7,"k":"dot"},
{"day":28.5,"a2":-2.48,"k":"cross"},{"day":29.2,"a2":-2.55,"k":"cross"},{"day":29.8,"a2":-2.6,"k":"cross"},{"day":30.4,"a2":-2.66,"k":"cross"},{"day":31.0,"a2":-2.58,"k":"cross"},{"day":31.6,"a2":-2.63,"k":"cross"},{"day":32.2,"a2":-2.7,"k":"cross"},{"day":32.8,"a2":-2.68,"k":"cross"},{"day":33.4,"a2":-2.74,"k":"cross"},{"day":34.0,"a2":-2.7,"k":"cross"},{"day":34.6,"a2":-2.8,"k":"cross"},{"day":35.2,"a2":-2.76,"k":"cross"},{"day":35.8,"a2":-2.68,"k":"cross"},{"day":36.4,"a2":-2.62,"k":"cross"},{"day":37.0,"a2":-2.6,"k":"cross"},{"day":37.6,"a2":-2.56,"k":"cross"},{"day":38.2,"a2":-2.52,"k":"cross"},{"day":38.8,"a2":-2.5,"k":"cross"},{"day":43.4,"a2":-2.45,"k":"cross"},{"day":44.0,"a2":-2.5,"k":"cross"},{"day":44.6,"a2":-2.42,"k":"cross"},{"day":45.2,"a2":-2.47,"k":"cross"},{"day":45.8,"a2":-2.52,"k":"cross"},{"day":46.4,"a2":-2.48,"k":"cross"},{"day":47.0,"a2":-2.54,"k":"cross"},{"day":47.6,"a2":-2.5,"k":"cross"},{"day":48.2,"a2":-2.56,"k":"cross"},{"day":48.8,"a2":-2.6,"k":"cross"},{"day":49.4,"a2":-2.58,"k":"cross"},{"day":50.2,"a2":-2.64,"k":"cross"},{"day":50.8,"a2":-2.7,"k":"cross"},{"day":51.4,"a2":-2.76,"k":"cross"},{"day":52.0,"a2":-2.8,"k":"cross"},{"day":52.6,"a2":-2.74,"k":"cross"},{"day":53.2,"a2":-2.7,"k":"cross"},{"day":53.8,"a2":-2.66,"k":"cross"},{"day":54.4,"a2":-2.62,"k":"cross"},{"day":55.0,"a2":-2.6,"k":"cross"},{"day":55.6,"a2":-2.58,"k":"cross"},{"day":56.2,"a2":-2.55,"k":"cross"},{"day":56.8,"a2":-2.53,"k":"cross"},{"day":57.4,"a2":-2.68,"k":"cross"},{"day":58.0,"a2":-2.72,"k":"cross"},{"day":58.8,"a2":-2.76,"k":"cross"},{"day":59.6,"a2":-2.8,"k":"cross"},{"day":60.4,"a2":-2.74,"k":"cross"},{"day":61.2,"a2":-2.78,"k":"cross"},{"day":62.0,"a2":-2.84,"k":"cross"},{"day":62.8,"a2":-2.8,"k":"cross"},{"day":63.4,"a2":-2.86,"k":"cross"},
{"day":66.2,"a2":-2.55,"k":"cross"},{"day":67.4,"a2":-2.62,"k":"cross"},{"day":68.6,"a2":-2.5,"k":"cross"},{"day":69.8,"a2":-2.58,"k":"cross"},{"day":71.0,"a2":-2.66,"k":"cross"},{"day":72.2,"a2":-2.6,"k":"cross"},{"day":73.4,"a2":-2.7,"k":"cross"},{"day":74.6,"a2":-2.65,"k":"cross"},{"day":75.8,"a2":-2.72,"k":"cross"},{"day":77.0,"a2":-2.6,"k":"cross"},{"day":78.2,"a2":-2.55,"k":"cross"},{"day":79.4,"a2":-2.68,"k":"cross"},{"day":80.6,"a2":-2.75,"k":"cross"},{"day":81.8,"a2":-2.7,"k":"cross"},
{"day":84.0,"a2":-2.8,"k":"cross"},{"day":84.8,"a2":-2.86,"k":"cross"},{"day":85.6,"a2":-2.82,"k":"cross"},{"day":86.4,"a2":-2.85,"k":"cross"},{"day":87.2,"a2":-2.9,"k":"cross"},{"day":88.0,"a2":-2.88,"k":"cross"},{"day":88.8,"a2":-2.92,"k":"cross"},{"day":89.6,"a2":-2.96,"k":"cross"},{"day":90.4,"a2":-2.94,"k":"cross"},{"day":91.2,"a2":-3.0,"k":"cross"},{"day":92.0,"a2":-3.05,"k":"cross"},{"day":92.8,"a2":-2.98,"k":"cross"},{"day":93.6,"a2":-3.04,"k":"cross"},{"day":94.4,"a2":-3.08,"k":"cross"},{"day":95.2,"a2":-3.1,"k":"cross"},{"day":96.0,"a2":-3.05,"k":"cross"},{"day":96.8,"a2":-3.0,"k":"cross"},{"day":97.6,"a2":-2.95,"k":"cross"},{"day":98.4,"a2":-2.9,"k":"cross"},{"day":99.2,"a2":-2.86,"k":"cross"},{"day":100.0,"a2":-2.82,"k":"cross"},{"day":100.8,"a2":-2.78,"k":"cross"},{"day":101.6,"a2":-2.84,"k":"cross"},{"day":102.4,"a2":-2.9,"k":"cross"},{"day":103.2,"a2":-2.95,"k":"cross"},{"day":104.0,"a2":-3.0,"k":"cross"},{"day":104.8,"a2":-3.05,"k":"cross"},{"day":105.6,"a2":-3.1,"k":"cross"},{"day":106.4,"a2":-3.15,"k":"cross"},{"day":107.2,"a2":-3.2,"k":"cross"},
{"day":110.6,"a2":-2.5,"k":"cross"},{"day":111.4,"a2":-2.56,"k":"cross"},{"day":112.2,"a2":-2.62,"k":"cross"},{"day":113.0,"a2":-2.7,"k":"cross"},{"day":113.8,"a2":-2.66,"k":"cross"},{"day":114.6,"a2":-2.72,"k":"cross"},{"day":115.4,"a2":-2.64,"k":"cross"},{"day":116.2,"a2":-2.7,"k":"cross"},{"day":117.0,"a2":-2.76,"k":"cross"},{"day":117.8,"a2":-2.68,"k":"cross"},{"day":118.6,"a2":-2.62,"k":"cross"},{"day":119.4,"a2":-2.7,"k":"cross"},{"day":120.2,"a2":-2.75,"k":"cross"},{"day":121.0,"a2":-2.68,"k":"cross"},{"day":121.8,"a2":-2.72,"k":"cross"},{"day":122.6,"a2":-2.78,"k":"cross"},{"day":123.4,"a2":-2.84,"k":"cross"},{"day":124.2,"a2":-2.86,"k":"cross"},{"day":125.0,"a2":-2.8,"k":"cross"},
{"day":126.0,"a2":-2.72,"k":"cross"},{"day":127.2,"a2":-2.75,"k":"cross"},{"day":128.4,"a2":-2.7,"k":"cross"},{"day":131.0,"a2":-2.78,"k":"cross"},{"day":134.8,"a2":-2.5,"k":"cross"},{"day":136.0,"a2":-2.56,"k":"cross"},{"day":137.2,"a2":-2.62,"k":"cross"},{"day":138.4,"a2":-2.58,"k":"cross"},{"day":139.6,"a2":-2.66,"k":"cross"},{"day":140.8,"a2":-2.72,"k":"cross"},{"day":142.0,"a2":-2.78,"k":"cross"},{"day":143.2,"a2":-2.74,"k":"cross"},{"day":144.4,"a2":-2.8,"k":"cross"},{"day":145.6,"a2":-2.86,"k":"cross"},{"day":146.8,"a2":-2.82,"k":"cross"},{"day":148.0,"a2":-2.88,"k":"cross"},{"day":149.2,"a2":-2.84,"k":"cross"},{"day":150.4,"a2":-2.9,"k":"cross"},{"day":151.6,"a2":-2.86,"k":"cross"},{"day":152.8,"a2":-2.92,"k":"cross"},{"day":154.0,"a2":-2.82,"k":"cross"},{"day":155.2,"a2":-2.76,"k":"cross"},{"day":156.4,"a2":-2.72,"k":"cross"},{"day":157.6,"a2":-2.78,"k":"cross"},{"day":158.8,"a2":-2.84,"k":"cross"},{"day":160.0,"a2":-2.9,"k":"cross"},{"day":161.2,"a2":-2.96,"k":"cross"},{"day":162.4,"a2":-2.92,"k":"cross"},{"day":163.6,"a2":-2.98,"k":"cross"},{"day":164.8,"a2":-3.02,"k":"cross"},{"day":147.8,"a2":-3.05,"k":"cross"},{"day":148.4,"a2":-3.12,"k":"cross"},{"day":149.0,"a2":-3.2,"k":"cross"},{"day":149.6,"a2":-3.28,"k":"cross"},
{"day":174.2,"a2":-2.7,"k":"cross"},{"day":175.0,"a2":-2.62,"k":"cross"},{"day":175.8,"a2":-2.55,"k":"cross"},{"day":176.6,"a2":-2.6,"k":"cross"},{"day":177.4,"a2":-2.68,"k":"cross"},{"day":178.2,"a2":-2.64,"k":"cross"},{"day":179.0,"a2":-2.58,"k":"cross"},{"day":179.8,"a2":-2.62,"k":"cross"}
],
"dst": [
{"day":24.2,"dst":8},{"day":25.0,"dst":10},{"day":25.8,"dst":12},{"day":26.6,"dst":9},{"day":27.4,"dst":14},{"day":28.2,"dst":10},{"day":29.0,"dst":7},{"day":29.8,"dst":11},{"day":30.6,"dst":13},{"day":31.4,"dst":9},{"day":32.2,"dst":12},{"day":33.0,"dst":15},{"day":33.6,"dst":18},{"day":34.0,"dst":14},{"day":34.6,"dst":10},{"day":35.2,"dst":12},{"day":35.8,"dst":8},{"day":36.4,"dst":5},{"day":37.0,"dst":7},{"day":37.6,"dst":3},{"day":38.2,"dst":2},{"day":38.5,"dst":-45},{"day":38.7,"dst":-52},{"day":39.0,"dst":-38},{"day":39.4,"dst":-28},{"day":39.8,"dst":-20},{"day":40.2,"dst":-15},{"day":40.8,"dst":-12},{"day":41.4,"dst":-8},{"day":42.0,"dst":-6},{"day":42.6,"dst":-10},{"day":43.2,"dst":-4},{"day":43.8,"dst":-2},{"day":44.4,"dst":3},{"day":45.0,"dst":6},{"day":45.6,"dst":2},{"day":46.2,"dst":5},{"day":46.8,"dst":0},{"day":47.4,"dst":4},{"day":48.0,"dst":3},{"day":48.6,"dst":7},{"day":49.2,"dst":2},{"day":49.8,"dst":5},{"day":50.4,"dst":8},{"day":51.0,"dst":4},{"day":51.6,"dst":9},{"day":52.2,"dst":6},{"day":52.6,"dst":-10},{"day":53.2,"dst":5},{"day":53.6,"dst":16},{"day":54.0,"dst":3},{"day":54.4,"dst":-10},{"day":54.8,"dst":-22},{"day":55.2,"dst":-16},{"day":55.8,"dst":-12},{"day":56.4,"dst":-8},{"day":57.0,"dst":-5},{"day":57.6,"dst":-2},{"day":58.2,"dst":0},{"day":58.8,"dst":3},{"day":59.4,"dst":1},{"day":60.0,"dst":4},{"day":60.6,"dst":2},{"day":61.2,"dst":6},{"day":61.8,"dst":3},{"day":62.4,"dst":5},{"day":63.0,"dst":2},{"day":63.4,"dst":-35},{"day":63.7,"dst":-62},{"day":63.9,"dst":-28},{"day":64.3,"dst":4},{"day":64.8,"dst":-4},{"day":65.4,"dst":-8},{"day":66.0,"dst":-6},{"day":66.6,"dst":-10},{"day":67.2,"dst":-3},{"day":67.8,"dst":8},{"day":68.4,"dst":12},{"day":69.0,"dst":6},{"day":69.6,"dst":15},{"day":70.2,"dst":10},{"day":70.8,"dst":5},{"day":71.4,"dst":12},{"day":72.0,"dst":8},{"day":72.6,"dst":-8},{"day":73.2,"dst":6},{"day":73.8,"dst":10},{"day":74.4,"dst":4},{"day":75.0,"dst":9},{"day":75.6,"dst":12},{"day":76.2,"dst":6},{"day":76.8,"dst":10},{"day":77.4,"dst":15},{"day":78.0,"dst":8},{"day":78.6,"dst":12},{"day":79.2,"dst":18},{"day":79.8,"dst":10},{"day":80.4,"dst":7},{"day":81.0,"dst":3},{"day":81.6,"dst":12},{"day":82.2,"dst":-4},{"day":82.6,"dst":-14},{"day":83.0,"dst":-20},{"day":83.4,"dst":-10},{"day":84.0,"dst":-5},{"day":84.6,"dst":0},{"day":85.2,"dst":3},{"day":85.8,"dst":1},{"day":86.4,"dst":4},{"day":87.0,"dst":2},{"day":87.6,"dst":5},{"day":88.2,"dst":3},{"day":88.8,"dst":6},{"day":89.4,"dst":4},{"day":90.0,"dst":8},{"day":90.6,"dst":5},{"day":91.0,"dst":-69},{"day":91.2,"dst":7},{"day":91.8,"dst":4},{"day":92.4,"dst":9},{"day":93.0,"dst":6},{"day":93.6,"dst":18},{"day":94.2,"dst":12},{"day":94.8,"dst":8},{"day":95.4,"dst":15},{"day":96.0,"dst":10},{"day":96.6,"dst":4},{"day":97.2,"dst":12},{"day":97.8,"dst":-5},{"day":98.4,"dst":8},{"day":99.0,"dst":14},{"day":99.6,"dst":4},{"day":100.2,"dst":-6},{"day":100.8,"dst":10},{"day":101.4,"dst":6},{"day":102.0,"dst":14},{"day":102.6,"dst":2},{"day":103.2,"dst":8},{"day":103.8,"dst":-4},{"day":104.4,"dst":12},{"day":105.0,"dst":6},{"day":105.6,"dst":15},{"day":106.2,"dst":18},{"day":106.8,"dst":10},{"day":107.4,"dst":22},{"day":108.2,"dst":-101},{"day":108.5,"dst":-74},{"day":108.8,"dst":-60},{"day":109.1,"dst":-50},{"day":109.5,"dst":-42},{"day":110.0,"dst":-35},{"day":110.6,"dst":-28},{"day":111.2,"dst":-22},{"day":111.8,"dst":-18},{"day":112.4,"dst":-14},{"day":113.0,"dst":-10},{"day":113.6,"dst":-7},{"day":114.2,"dst":-3},{"day":114.8,"dst":0},{"day":115.4,"dst":4},{"day":116.0,"dst":2},{"day":116.6,"dst":6},{"day":117.2,"dst":3},{"day":117.8,"dst":7},{"day":118.4,"dst":4},{"day":119.0,"dst":8},{"day":119.6,"dst":5},{"day":120.2,"dst":2},{"day":120.8,"dst":9},{"day":121.4,"dst":5},{"day":122.0,"dst":7},{"day":122.6,"dst":3},{"day":123.2,"dst":8},{"day":123.8,"dst":11},{"day":124.4,"dst":6},{"day":124.8,"dst":-5},{"day":125.2,"dst":-15},{"day":125.6,"dst":-20},{"day":126.0,"dst":-12},{"day":126.6,"dst":-6},{"day":127.2,"dst":0},{"day":127.8,"dst":-3},{"day":128.4,"dst":-2},{"day":129.0,"dst":-4},{"day":129.6,"dst":-16},{"day":130.2,"dst":-10},{"day":130.8,"dst":-8},{"day":131.4,"dst":-5},{"day":132.0,"dst":-4},{"day":132.6,"dst":-2},{"day":133.2,"dst":0},{"day":133.8,"dst":6},{"day":134.4,"dst":16},{"day":135.0,"dst":8},{"day":135.6,"dst":-4},{"day":136.2,"dst":2},{"day":136.8,"dst":6},{"day":137.4,"dst":4},{"day":138.0,"dst":10},{"day":138.6,"dst":14},{"day":139.2,"dst":6},{"day":139.8,"dst":3},{"day":140.4,"dst":-2},{"day":141.0,"dst":8},{"day":141.6,"dst":12},{"day":142.2,"dst":5},{"day":142.8,"dst":10},{"day":143.4,"dst":14},{"day":144.0,"dst":8},{"day":144.6,"dst":12},{"day":145.2,"dst":6},{"day":145.8,"dst":10},{"day":146.4,"dst":16},{"day":147.0,"dst":9},{"day":147.6,"dst":12},{"day":148.2,"dst":7},{"day":148.8,"dst":14},{"day":149.4,"dst":10},{"day":150.0,"dst":6},{"day":150.6,"dst":12},{"day":151.2,"dst":8},{"day":151.8,"dst":15},{"day":152.4,"dst":10},{"day":153.0,"dst":5},{"day":153.6,"dst":8},{"day":154.2,"dst":3},{"day":154.8,"dst":0},{"day":155.4,"dst":-4},{"day":156.0,"dst":2},{"day":156.6,"dst":-2},{"day":157.2,"dst":4},{"day":157.8,"dst":-8},{"day":158.4,"dst":-20},{"day":159.0,"dst":-10},{"day":159.6,"dst":2},{"day":160.2,"dst":6},{"day":160.8,"dst":10},{"day":161.4,"dst":14},{"day":162.0,"dst":20},{"day":162.6,"dst":16},{"day":163.2,"dst":18},{"day":163.8,"dst":12},{"day":164.4,"dst":8},{"day":165.0,"dst":14},{"day":165.6,"dst":6},{"day":166.2,"dst":2},{"day":168.0,"dst":-45},{"day":168.2,"dst":-69},{"day":168.4,"dst":-52},{"day":168.7,"dst":-30},{"day":169.0,"dst":-22},{"day":169.6,"dst":-15},{"day":170.2,"dst":-10},{"day":170.8,"dst":-6},{"day":171.4,"dst":-2},{"day":172.0,"dst":0},{"day":172.6,"dst":3},{"day":173.2,"dst":6},{"day":173.8,"dst":4},{"day":174.4,"dst":8},{"day":175.0,"dst":12},{"day":175.6,"dst":4},{"day":176.2,"dst":2},{"day":176.8,"dst":6},{"day":177.4,"dst":3},{"day":178.0,"dst":1},{"day":178.6,"dst":4},{"day":179.2,"dst":2},{"day":179.8,"dst":0},{"day":180.4,"dst":3},{"day":181.0,"dst":-1},{"day":181.6,"dst":2},{"day":182.2,"dst":-2},{"day":182.8,"dst":1},{"day":183.4,"dst":-1},{"day":184.0,"dst":0}
]
},
"spacing": 29,
"vconcat": [
{
 "width": 1026, "height": 653,
 "data": {"name": "pts"},
 "encoding": {
  "x": {"field": "day", "type": "quantitative", "scale": {"domain": [24, 184], "nice": false, "zero": false},
        "axis": {"values": [34,44,54,64,74,84,94,104,114,124,134,144,154,164,174], "labels": false, "title": null, "grid": true, "minExtent": 0, "maxExtent": 0}},
  "y": {"field": "a2", "type": "quantitative", "scale": {"domain": [-5.3, -0.3], "nice": false, "zero": false},
        "axis": {"values": [-0.3,-0.6,-0.9,-1.2,-1.5,-1.8,-2.1,-2.4,-2.7,-3,-3.3,-3.6,-3.9,-4.2,-4.5,-4.8,-5.1],
                 "labelExpr": "(round(datum.value*10) + 3) % 6 == 0 ? '-' + format(abs(datum.value), '.1f') : ''",
                 "title": "A₂", "titleFontSize": 26, "titlePadding": 12, "labelFontSize": 23, "labelPadding": 10, "minExtent": 58, "maxExtent": 58, "grid": true}}
 },
 "layer": [
  {"transform": [{"filter": "datum.k == 'faint'"}], "mark": {"type": "point", "filled": true, "size": 4, "color": "#a8a8a8", "opacity": 1}},
  {"transform": [{"filter": "datum.k == 'dot'"}], "mark": {"type": "point", "filled": true, "size": 7, "color": "black", "opacity": 1}},
  {"transform": [{"filter": "datum.k == 'cross'"}], "mark": {"type": "point", "shape": "cross", "angle": 45, "filled": true, "size": 22, "color": "black", "opacity": 1}},
  {"data": {"name": "labs"}, "transform": [{"filter": "datum.side == 'left' && datum.t != 'L=5.0'"}], "mark": {"type": "text", "align": "left", "dx": 6, "fontSize": 22, "font": "DejaVu Sans", "color": "black"}, "encoding": {"text": {"field": "t"}}},
  {"data": {"name": "labs"}, "transform": [{"filter": "datum.t == 'L=5.0'"}], "mark": {"type": "text", "align": "left", "dx": 8, "fontSize": 18, "font": "DejaVu Sans", "color": "black"}, "encoding": {"text": {"field": "t"}}},
  {"data": {"name": "labs"}, "transform": [{"filter": "datum.side == 'right'"}], "mark": {"type": "text", "align": "left", "dx": -25, "fontSize": 23, "font": "DejaVu Sans", "color": "black"}, "encoding": {"text": {"field": "t"}}}
 ]
},
{
 "width": 1026, "height": 129,
 "data": {"name": "dst"},
 "mark": {"type": "point", "filled": true, "size": 5, "color": "black", "opacity": 1},
 "encoding": {
  "x": {"field": "day", "type": "quantitative", "scale": {"domain": [24, 184], "nice": false, "zero": false},
        "axis": {"values": [24,34,44,54,64,74,84,94,104,114,124,134,144,154,164,174,184],
                 "labelExpr": "(datum.value - 24) % 20 == 0 ? format(datum.value, 'd') : ''",
                 "title": "DAY OF YEAR 1965", "titleFontSize": 25, "titlePadding": 12, "labelFontSize": 22, "labelPadding": 14, "grid": true}},
  "y": {"field": "dst", "type": "quantitative", "scale": {"domain": [-150, 25], "nice": false, "zero": false},
        "axis": {"values": [25,0,-25,-50,-75,-100,-125],
                 "labelExpr": "(datum.value + 25) % 50 == 0 ? (datum.value > 0 ? '+' + datum.value : '-' + abs(datum.value)) : ''",
                 "title": "DST IN γ'S", "titleFontSize": 24, "titlePadding": 14, "labelFontSize": 21, "labelPadding": 10, "minExtent": 58, "maxExtent": 58, "grid": true}}
 }
}
]
}
